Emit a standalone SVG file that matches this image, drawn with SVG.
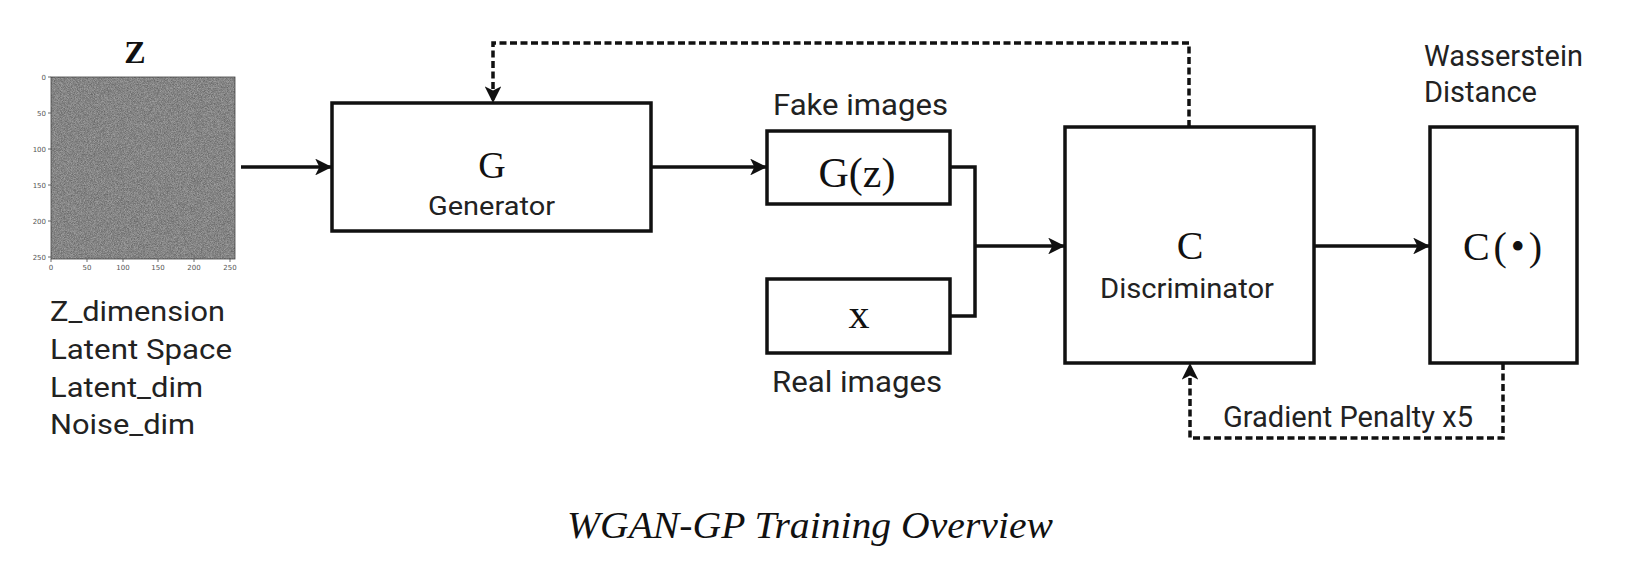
<svg xmlns="http://www.w3.org/2000/svg" width="1626" height="565" viewBox="0 0 1626 565">
<style>
.box{fill:#fff;stroke:#111;stroke-width:3.5}
.ln{fill:none;stroke:#111;stroke-width:3.5}
.dash{fill:none;stroke:#111;stroke-width:3.5;stroke-dasharray:7 3.5}
.serif{font-family:"Liberation Serif","Times New Roman",serif;fill:#111}
.sans{font-family:Roboto,"Liberation Sans",sans-serif;fill:#222}
.tick{font-family:"DejaVu Sans","Liberation Sans",sans-serif;font-size:7px;fill:#555}
</style>
<defs>
<marker id="arr" viewBox="0 0 10 10" refX="10" refY="5" markerWidth="4.8" markerHeight="4.8" markerUnits="strokeWidth" orient="auto">
<path d="M0,0 L10,5 L0,10 L2.5,5 Z" fill="#111"/>
</marker>
<filter id="noise" x="0" y="0" width="100%" height="100%" color-interpolation-filters="sRGB">
<feTurbulence type="fractalNoise" baseFrequency="1.3" numOctaves="1" seed="5" result="t"/>
<feColorMatrix in="t" type="matrix" values="0.4 0 0 0 0.32  0.4 0 0 0 0.32  0.4 0 0 0 0.32  0 0 0 0 1"/>
</filter>
</defs>

<g id="latent">
<text class="serif" x="135" y="63" font-size="32" font-weight="bold" text-anchor="middle">Z</text>
<rect x="51" y="77" width="184" height="182" fill="#808080" filter="url(#noise)"/>
<rect x="51" y="77" width="184" height="182" fill="none" stroke="#444" stroke-width="0.8"/>
<g stroke="#444" stroke-width="0.8">
<path d="M51,77h-3M51,113h-3M51,149h-3M51,185h-3M51,221h-3M51,257h-3"/>
<path d="M51,259v3M87,259v3M123,259v3M158,259v3M194,259v3M230,259v3"/>
</g>
<g class="tick" text-anchor="end">
<text x="46" y="80">0</text><text x="46" y="116">50</text><text x="46" y="152">100</text><text x="46" y="188">150</text><text x="46" y="224">200</text><text x="46" y="260">250</text>
</g>
<g class="tick" text-anchor="middle">
<text x="51" y="270">0</text><text x="87" y="270">50</text><text x="123" y="270">100</text><text x="158" y="270">150</text><text x="194" y="270">200</text><text x="230" y="270">250</text>
</g>
<g class="sans" font-size="28">
<text x="50" y="321" textLength="175" lengthAdjust="spacingAndGlyphs">Z_dimension</text>
<text x="50" y="359" textLength="182" lengthAdjust="spacingAndGlyphs">Latent Space</text>
<text x="50" y="397" textLength="153" lengthAdjust="spacingAndGlyphs">Latent_dim</text>
<text x="50" y="434" textLength="145" lengthAdjust="spacingAndGlyphs">Noise_dim</text>
</g>
</g>

<g id="generator">
<rect class="box" x="332" y="103" width="319" height="128"/>
<text class="serif" x="492" y="178" font-size="38" text-anchor="middle">G</text>
<text class="sans" x="428" y="215" font-size="26" textLength="127" lengthAdjust="spacingAndGlyphs">Generator</text>
</g>

<g id="fake">
<text class="sans" x="773" y="115" font-size="29" textLength="175" lengthAdjust="spacingAndGlyphs">Fake images</text>
<rect class="box" x="767" y="131" width="183" height="73"/>
<text class="serif" x="857" y="187" font-size="42" text-anchor="middle">G(z)</text>
</g>

<g id="real">
<rect class="box" x="767" y="279" width="183" height="74"/>
<text class="serif" x="859" y="328" font-size="42" text-anchor="middle">x</text>
<text class="sans" x="772" y="392" font-size="29" textLength="170" lengthAdjust="spacingAndGlyphs">Real images</text>
</g>

<g id="critic">
<rect class="box" x="1065" y="127" width="249" height="236"/>
<text class="serif" x="1190" y="259" font-size="40" text-anchor="middle">C</text>
<text class="sans" x="1100" y="298" font-size="28" textLength="174" lengthAdjust="spacingAndGlyphs">Discriminator</text>
</g>

<g id="output">
<text class="sans" x="1424" y="66" font-size="29" textLength="159" lengthAdjust="spacingAndGlyphs">Wasserstein</text>
<text class="sans" x="1424" y="102" font-size="29" textLength="113" lengthAdjust="spacingAndGlyphs">Distance</text>
<rect class="box" x="1430" y="127" width="147" height="236"/>
<text class="serif" x="1463" y="260" font-size="40" textLength="79" lengthAdjust="spacing">C(•)</text>
</g>

<g id="connectors">
<path class="ln" d="M241,167 H332" marker-end="url(#arr)"/>
<path class="ln" d="M651,167 H767" marker-end="url(#arr)"/>
<path class="ln" d="M950,167 H975 V316 H950"/>
<path class="ln" d="M975,246 H1065" marker-end="url(#arr)"/>
<path class="ln" d="M1314,246 H1430" marker-end="url(#arr)"/>
<path class="dash" d="M1189,127 V43 H493 V103" marker-end="url(#arr)"/>
<path class="dash" d="M1503,363 V438 H1190 V363" marker-end="url(#arr)"/>
<text class="sans" x="1223" y="427" font-size="29" textLength="250" lengthAdjust="spacingAndGlyphs">Gradient Penalty x5</text>
</g>

<text class="serif" x="567" y="538" font-size="37" font-style="italic" textLength="486" lengthAdjust="spacingAndGlyphs">WGAN-GP Training Overview</text>
</svg>
